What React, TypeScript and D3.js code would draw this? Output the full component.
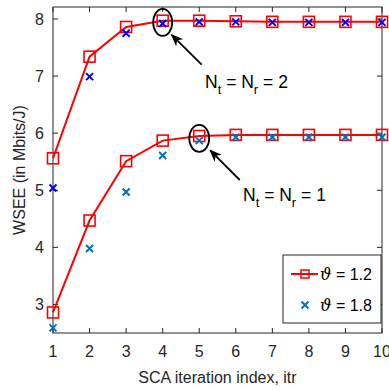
import React from "react";
import * as d3 from "d3";

const iterations = [1, 2, 3, 4, 5, 6, 7, 8, 9, 10];
// N_t = N_r = 2
const nt2Theta12 = [5.56, 7.34, 7.86, 7.97, 7.97, 7.96, 7.95, 7.95, 7.95, 7.95];
const nt2Theta18 = [5.04, 6.99, 7.75, 7.92, 7.95, 7.95, 7.94, 7.94, 7.94, 7.94];
// N_t = N_r = 1
const nt1Theta12 = [2.86, 4.47, 5.51, 5.87, 5.95, 5.97, 5.97, 5.97, 5.97, 5.97];
const nt1Theta18 = [2.59, 3.98, 4.97, 5.61, 5.87, 5.93, 5.93, 5.93, 5.93, 5.93];
const yTicks = [3, 4, 5, 6, 7, 8];

const W = 389;
const H = 390;
const margin = { top: 7, right: 7, bottom: 57, left: 53 };
const FONT = "'Liberation Sans', Arial, Helvetica, sans-serif";

const RED = "#ff0000";
const BLUE = "#0000ff";
const MBLUE = "#0072bd";

export default function App() {
  const x = d3
    .scaleLinear()
    .domain([1, 10])
    .range([margin.left, W - margin.right]);
  const y = d3
    .scaleLinear()
    .domain([2.5, 8.21])
    .range([H - margin.bottom, margin.top]);

  const line = d3
    .line<number>()
    .x((_, i) => x(iterations[i]))
    .y((d) => y(d));

  const tick = 5;
  const x0 = x.range()[0];
  const x1 = x.range()[1];
  const y0 = y.range()[0];
  const y1 = y.range()[1];

  const square = (cx: number, cy: number, k: string) => (
    <rect
      key={k}
      x={cx - 5.5}
      y={cy - 5.5}
      width={11}
      height={11}
      fill="none"
      stroke={RED}
      strokeWidth={1.6}
    />
  );
  const cross = (cx: number, cy: number, color: string, k: string) => (
    <path
      key={k}
      d={`M${cx - 3.5},${cy - 3.5}L${cx + 3.5},${cy + 3.5}M${cx - 3.5},${cy + 3.5}L${cx + 3.5},${cy - 3.5}`}
      stroke={color}
      strokeWidth={2}
    />
  );

  const label = (tx: number, ty: number, n: string) => (
    <text x={tx} y={ty} fontSize={17.5} fontFamily={FONT} fill="#000">
      N
      <tspan dy={6} fontSize={13}>t</tspan>
      <tspan dy={-6}> = N</tspan>
      <tspan dy={6} fontSize={13}>r</tspan>
      <tspan dy={-6}> = {n}</tspan>
    </text>
  );

  return (
    <svg
      width={W}
      height={H}
      style={{ position: "absolute", left: 0, top: 0, background: "#fff" }}
    >
      <rect x={0} y={0} width={W} height={H} fill="#fff" />
      {/* axes box */}
      <rect
        x={x0}
        y={y1}
        width={x1 - x0}
        height={y0 - y1}
        fill="none"
        stroke="#262626"
        strokeWidth={1}
      />
      {iterations.map((v) => (
        <g key={"xt" + v}>
          <line x1={x(v)} x2={x(v)} y1={y0} y2={y0 - tick} stroke="#262626" />
          <line x1={x(v)} x2={x(v)} y1={y1} y2={y1 + tick} stroke="#262626" />
          <text
            x={x(v)}
            y={y0 + 24}
            textAnchor="middle"
            fontSize={16}
            fontFamily={FONT}
            fill="#262626"
          >
            {v}
          </text>
        </g>
      ))}
      {yTicks.map((v) => (
        <g key={"yt" + v}>
          <line x1={x0} x2={x0 + tick} y1={y(v)} y2={y(v)} stroke="#262626" />
          <line x1={x1} x2={x1 - tick} y1={y(v)} y2={y(v)} stroke="#262626" />
          <text
            x={x0 - 9}
            y={y(v) + 6}
            textAnchor="end"
            fontSize={16}
            fontFamily={FONT}
            fill="#262626"
          >
            {v}
          </text>
        </g>
      ))}
      <text
        x={(x0 + x1) / 2}
        y={H - 7}
        textAnchor="middle"
        fontSize={16}
        fontFamily={FONT}
        fill="#262626"
      >
        SCA iteration index, itr
      </text>
      <text
        transform={`translate(25,${(y0 + y1) / 2}) rotate(-90)`}
        textAnchor="middle"
        fontSize={16}
        fontFamily={FONT}
        fill="#262626"
      >
        WSEE (in Mbits/J)
      </text>

      {/* series */}
      <path d={line(nt2Theta12) ?? ""} fill="none" stroke={RED} strokeWidth={2} />
      <path d={line(nt1Theta12) ?? ""} fill="none" stroke={RED} strokeWidth={2} />
      {nt2Theta12.map((d, i) => square(x(iterations[i]), y(d), "s2" + i))}
      {nt1Theta12.map((d, i) => square(x(iterations[i]), y(d), "s1" + i))}
      {nt2Theta18.map((d, i) => cross(x(iterations[i]), y(d), BLUE, "c2" + i))}
      {nt1Theta18.map((d, i) => cross(x(iterations[i]), y(d), MBLUE, "c1" + i))}

      {/* annotations */}
      <defs>
        <marker
          id="arrow"
          viewBox="0 0 10 10"
          refX={9}
          refY={5}
          markerWidth={7}
          markerHeight={7}
          orient="auto"
        >
          <path d="M0,1L10,5L0,9L3,5Z" fill="#000" />
        </marker>
      </defs>
      <ellipse
        cx={x(4)}
        cy={y(7.94)}
        rx={9.5}
        ry={13.5}
        fill="none"
        stroke="#000"
        strokeWidth={1.8}
      />
      <line
        x1={x(5) + 2.5}
        y1={y(7.2)}
        x2={x(4) + 9}
        y2={y(7.72)}
        stroke="#000"
        strokeWidth={1.8}
        markerEnd="url(#arrow)"
      />
      {label(205, 88, "2")}
      <ellipse
        cx={x(5)}
        cy={y(5.91)}
        rx={10}
        ry={13.5}
        fill="none"
        stroke="#000"
        strokeWidth={1.8}
      />
      <line
        x1={x(6) + 4}
        y1={y(5.18)}
        x2={x(5) + 11}
        y2={y(5.7)}
        stroke="#000"
        strokeWidth={1.8}
        markerEnd="url(#arrow)"
      />
      {label(243, 201, "1")}

      {/* legend */}
      <rect
        x={283}
        y={255}
        width={98}
        height={68}
        fill="#fff"
        stroke="#262626"
        strokeWidth={1}
      />
      <line x1={291} x2={318} y1={274} y2={274} stroke={RED} strokeWidth={2} />
      <rect x={301} y={270} width={8} height={8} fill="none" stroke={RED} strokeWidth={1.5} />
      <text x={320} y={280} fontSize={16} fontFamily={FONT} fill="#000">
        <tspan fontStyle="italic" fontFamily="'DejaVu Serif', serif">ϑ</tspan>
        <tspan>  = 1.2</tspan>
      </text>
      {cross(305, 305, MBLUE, "lg")}
      <text x={320} y={311} fontSize={16} fontFamily={FONT} fill="#000">
        <tspan fontStyle="italic" fontFamily="'DejaVu Serif', serif">ϑ</tspan>
        <tspan> = 1.8</tspan>
      </text>
    </svg>
  );
}
